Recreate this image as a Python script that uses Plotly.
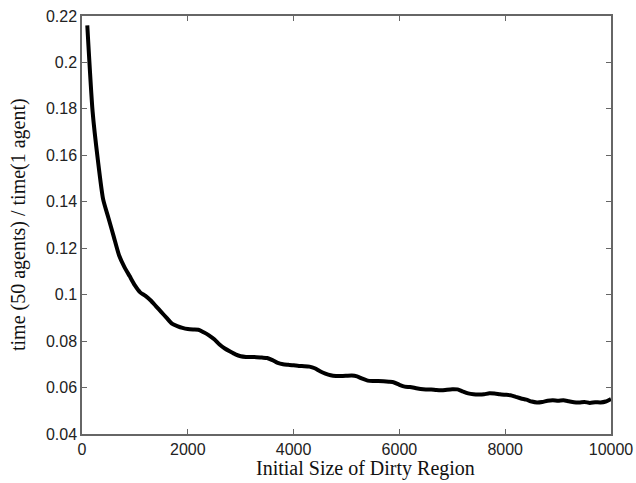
import plotly.graph_objects as go

x_size = [100, 200, 300, 400, 500, 600, 700, 800, 900, 1000,
          1100, 1200, 1300, 1400, 1500, 1600, 1700, 1800, 1900, 2000,
          2100, 2200, 2300, 2400, 2500, 2600, 2700, 2800, 2900, 3000,
          3100, 3200, 3300, 3400, 3500, 3600, 3700, 3800, 3900, 4000,
          4100, 4200, 4300, 4400, 4500, 4600, 4700, 4800, 4900, 5000,
          5100, 5200, 5300, 5400, 5500, 5600, 5700, 5800, 5900, 6000,
          6100, 6200, 6300, 6400, 6500, 6600, 6700, 6800, 6900, 7000,
          7100, 7200, 7300, 7400, 7500, 7600, 7700, 7800, 7900, 8000,
          8100, 8200, 8300, 8400, 8500, 8600, 8700, 8800, 8900, 9000,
          9100, 9200, 9300, 9400, 9500, 9600, 9700, 9800, 9900, 10000]

time_ratio = [0.216, 0.179, 0.158, 0.141, 0.133, 0.125, 0.117, 0.112, 0.108, 0.104,
              0.101, 0.0995, 0.0975, 0.095, 0.0925, 0.090, 0.0875, 0.0865, 0.0857, 0.0852,
              0.0850, 0.0849, 0.0838, 0.0825, 0.0808, 0.0785, 0.0768, 0.0755, 0.0743, 0.0735,
              0.0732, 0.0732, 0.0731, 0.0729, 0.0727, 0.0718, 0.0706, 0.0700, 0.0698, 0.0696,
              0.0693, 0.0692, 0.0690, 0.0683, 0.0670, 0.0660, 0.0653, 0.0650, 0.0650, 0.0651,
              0.0652, 0.0648, 0.0638, 0.0630, 0.0628, 0.0628, 0.0627, 0.0625, 0.0622, 0.0612,
              0.0604, 0.0602, 0.0598, 0.0594, 0.0592, 0.0592, 0.0589, 0.0588, 0.0591, 0.0593,
              0.0592, 0.0583, 0.0575, 0.0571, 0.0570, 0.0571, 0.0575, 0.0574, 0.0571, 0.0569,
              0.0567, 0.0560, 0.0553, 0.0548, 0.0540, 0.0536, 0.0538, 0.0543, 0.0545, 0.0543,
              0.0545, 0.0541, 0.0537, 0.0536, 0.0538, 0.0534, 0.0537, 0.0536, 0.0540, 0.0551]

x_ticks = [0, 2000, 4000, 6000, 8000, 10000]
y_ticks = [0.04, 0.06, 0.08, 0.1, 0.12, 0.14, 0.16, 0.18, 0.2, 0.22]
y_tick_labels = ["0.04", "0.06", "0.08", "0.1", "0.12", "0.14", "0.16", "0.18", "0.2", "0.22"]

x_title = "Initial Size of Dirty Region"
y_title = "time (50 agents) / time(1 agent)"

fig = go.Figure()
fig.add_trace(go.Scatter(x=x_size, y=time_ratio, mode="lines",
                         line=dict(color="black", width=4, shape="spline", smoothing=0.6),
                         showlegend=False, hoverinfo="skip"))

tick_font = dict(family="Liberation Sans, Arial, sans-serif", size=16, color="#222222")
title_font = dict(family="Liberation Serif, Times New Roman, serif", size=20, color="#111111")

axis_common = dict(showline=True, linecolor="#666666", linewidth=1.5, mirror="ticks",
                   ticks="inside", ticklen=5, tickwidth=1, tickcolor="#666666",
                   showgrid=False, zeroline=False, tickfont=tick_font, automargin=False)

fig.update_layout(
    width=636, height=483, autosize=False,
    margin=dict(l=82, r=25, t=16, b=49, autoexpand=False),
    paper_bgcolor="white", plot_bgcolor="white",
    xaxis=dict(range=[0, 10000], tickvals=x_ticks, ticktext=[str(v) for v in x_ticks], **axis_common),
    yaxis=dict(range=[0.04, 0.22], tickvals=y_ticks, ticktext=y_tick_labels, **axis_common),
    annotations=[
        dict(text=x_title, xref="paper", yref="paper", x=0.535, y=0, yshift=-21,
             xanchor="center", yanchor="top", showarrow=False, font=title_font),
        dict(text=y_title, xref="paper", yref="paper", x=0, y=0.5, xshift=-64,
             xanchor="center", yanchor="middle", textangle=-90, showarrow=False, font=title_font),
    ],
)

fig.write_html("out.html", config={"displayModeBar": False, "responsive": False},
               post_script="document.body.style.margin='0';document.body.style.overflow='hidden';")
